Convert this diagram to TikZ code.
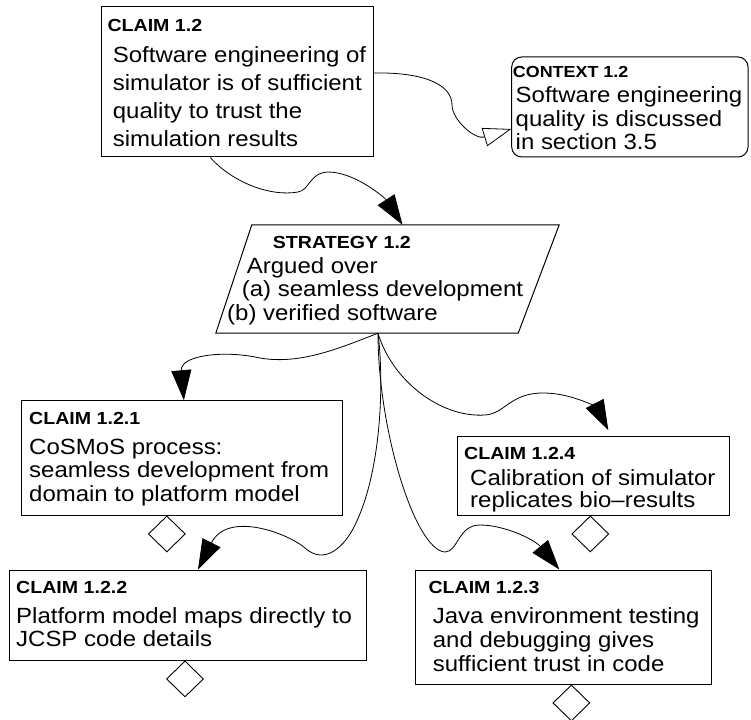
\documentclass[tikz,border=0pt]{standalone}
\usepackage{fontspec}
\newfontfamily\bodyf{Liberation Sans}[FakeStretch=1.09]
\newfontfamily\labf{Liberation Sans}[FakeStretch=1.12]
\usetikzlibrary{arrows.meta,shapes.geometric,calc}
\newcommand\gsnlines[2]{\vtop{\baselineskip=#1\relax\lineskiplimit=-100pt\lineskip=0pt #2}}
\newcommand\gl[1]{\hbox{#1}}
\begin{document}
\begin{tikzpicture}[x=1pt,y=-1pt,
  gbox/.style={draw=black, line width=1pt, inner sep=0pt, rectangle},
  gbody/.style={inner sep=0pt, anchor=base west, font=\bodyf\fontsize{22}{23.5}\selectfont},
  glab/.style={inner sep=0pt, anchor=base west, font=\labf\bfseries\fontsize{17.5}{20}\selectfont},
  gdia/.style={draw=black, line width=0.9pt, diamond, inner sep=0pt, minimum width=37pt, minimum height=36pt, anchor=north},
  gedge/.style={draw=black, line width=0.8pt},
  solved/.style={gedge, -{Triangle[length=30pt,width=20pt]}},
  incontext/.style={gedge, -{Triangle[open,length=28pt,width=19pt]}},
]
\fill[white] (0,0) rectangle (751,719);
\useasboundingbox (0,0) rectangle (751,719);

% CLAIM 1.2
\node[gbox, minimum width=271.3pt, minimum height=150pt] (c12) at (237.35,82) {};
\node[glab] (c12h) at (107.3,32) {CLAIM 1.2};
\node[gbody] (c12t) at (112.7,63) {\gsnlines{28pt}{\gl{Software engineering of}\gl{simulator is of sufficient}\gl{quality to trust the}\gl{simulation results}}};

% CONTEXT 1.2
\node[gbox, rounded corners=10pt, minimum width=236.3pt, minimum height=100pt] (ctx) at (629.85,107) {};
\node[glab, font=\labf\bfseries\fontsize{16}{20}\selectfont] (ctxh) at (512.7,78) {CONTEXT 1.2};
\node[gbody] (ctxt) at (515.5,103) {\gsnlines{23.5pt}{\gl{Software engineering}\gl{quality is discussed}\gl{in section 3.5}}};

% STRATEGY 1.2
\node[inner sep=0pt, minimum width=343pt, minimum height=108pt] (strat) at (387.5,279) {};
\draw[line width=1pt] ($(strat.north west)+(36,0)$) -- (strat.north east) -- ($(strat.south east)+(-41,0)$) -- (strat.south west) -- cycle;
\node[glab] (strath) at (272.7,248) {STRATEGY 1.2};
\node[gbody] (stratt) at (227,273) {\gsnlines{23.5pt}{\gl{\hskip19.7pt Argued over}\gl{\hskip14.7pt (a) seamless development}\gl{(b) verified software}}};
\coordinate (src) at ($(strat.south)+(-9.5,0)$);

% CLAIM 1.2.1
\node[gbox, minimum width=320.3pt, minimum height=114.3pt] (c121) at (181.85,457.85) {};
\node[glab] (c121h) at (29,424.3) {CLAIM 1.2.1};
\node[gbody] (c121t) at (29,454) {\gsnlines{23.8pt}{\gl{CoSMoS process:}\gl{seamless development from}\gl{domain to platform model}}};

% CLAIM 1.2.2
\node[gbox, minimum width=357.4pt, minimum height=90pt] (c122) at (188,615) {};
\node[glab] (c122h) at (16,593.3) {CLAIM 1.2.2};
\node[gbody] (c122t) at (16,623.3) {\gsnlines{23.4pt}{\gl{Platform model maps directly to}\gl{JCSP code details}}};

% CLAIM 1.2.3
\node[gbox, minimum width=296.7pt, minimum height=114pt] (c123) at (563.35,627) {};
\node[glab] (c123h) at (428.3,593.3) {CLAIM 1.2.3};
\node[gbody] (c123t) at (432.7,623.3) {\gsnlines{24.2pt}{\gl{Java environment testing}\gl{and debugging gives}\gl{sufficient trust in code}}};

% CLAIM 1.2.4
\node[gbox, minimum width=272pt, minimum height=78.3pt] (c124) at (593.3,475.85) {};
\node[glab] (c124h) at (464,459.3) {CLAIM 1.2.4};
\node[gbody] (c124t) at (470,485) {\gsnlines{22.5pt}{\gl{Calibration of simulator}\gl{replicates bio–results}}};

% undeveloped diamonds
\node[gdia] (d121) at ($(c121.south)+(-15,0)$) {};
\node[gdia] (d122) at ($(c122.south)+(-3,0)$) {};
\node[gdia] (d123) at ($(c123.south)+(8,0)$) {};
\node[gdia] (d124) at ($(c124.south)+(-3,0)$) {};

% connectors
\draw[solved] ($(c12.south)+(-27,0)$) .. controls (232,182) and (270,197) .. (298,192)
  .. controls (310,190) and (309,173) .. (328,172)
  .. controls (355,172) and (385,198) .. ($(strat.north)+(15,0)$);
\draw[incontext] ($(c12.east)+(0,-9)$) .. controls (425,72) and (452,85) .. (452,105)
  .. controls (452,120) and (475,140) .. ($(ctx.west)+(0,22)$);
\draw[solved] (src) .. controls (340,348) and (300,365) .. (260,358)
  .. controls (225,350) and (180,355) .. ($(c121.north)+(2,0)$);
\draw[solved] (src) .. controls (384,380) and (382,470) .. (355,525)
  .. controls (345,546) and (325,566) .. (305,548)
  .. controls (289,534) and (228,510) .. ($(c122.north)+(10,0)$);
\draw[solved] (src) .. controls (378,430) and (415,550) .. (445,552)
  .. controls (458,552) and (458,525) .. (480,525)
  .. controls (505,525) and (535,540) .. ($(c123.north)+(-4,0)$);
\draw[solved] (src) .. controls (392,380) and (440,418) .. (485,415)
  .. controls (505,413.7) and (510,393) .. (543,393)
  .. controls (575,393) and (598,410) .. ($(c124.north)+(15,-6)$);
\end{tikzpicture}
\end{document}
